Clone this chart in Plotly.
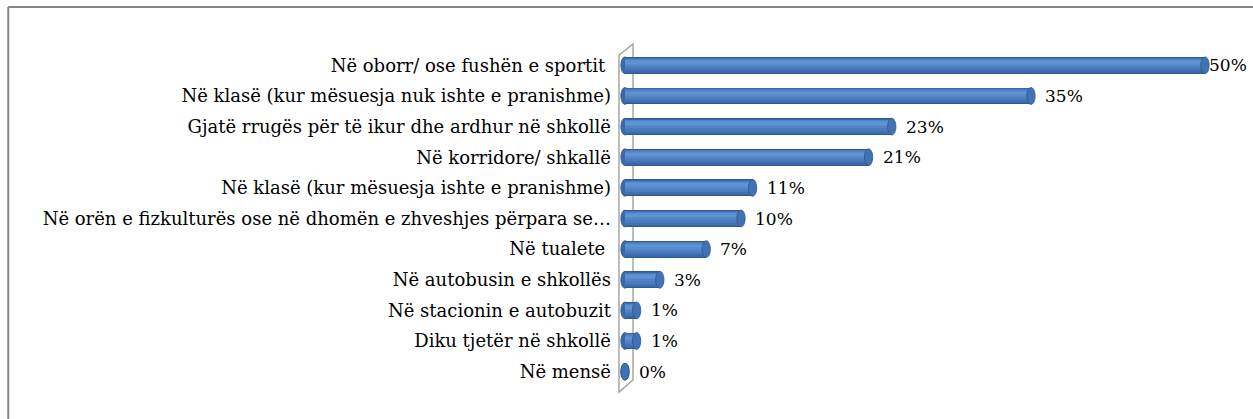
import plotly.graph_objects as go

# Locations where incidents happened, top to bottom, with share of answers (%)
locations = [
    "Në oborr/ ose fushën e sportit ",
    "Në klasë (kur mësuesja nuk ishte e pranishme)",
    "Gjatë rrugës për të ikur dhe ardhur në shkollë",
    "Në korridore/ shkallë",
    "Në klasë (kur mësuesja ishte e pranishme)",
    "Në orën e fizkulturës ose në dhomën e zhveshjes përpara se…",
    "Në tualete ",
    "Në autobusin e shkollës",
    "Në stacionin e autobuzit",
    "Diku tjetër në shkollë",
    "Në mensë",
]
shares = [50, 35, 23, 21, 11, 10, 7, 3, 1, 1, 0]
value_labels = ["50%", "35%", "23%", "21%", "11%", "10%", "7%", "3%", "1%", "1%", "0%"]

# plot bottom-up so the first location sits at the top
cats = locations[::-1]
vals = shares[::-1]
labs = value_labels[::-1]
idx = list(range(len(cats)))

FONT = "Palatino Linotype, Book Antiqua, DejaVu Serif, serif"
FONT_SIZE = 18
BAR_W = 0.55
CAP_R = 0.36

fig = go.Figure()

# cylinder shading: bands given as (bottom, top) fractions of the bar thickness
bands = [
    (0.00, 1.00, "#2f5b94"),
    (0.06, 0.95, "#3a68a7"),
    (0.14, 0.92, "#4271b3"),
    (0.26, 0.90, "#497bbd"),
    (0.40, 0.87, "#5184c7"),
    (0.52, 0.82, "#588cce"),
    (0.60, 0.76, "#5f93d4"),
]
for b0, b1, col in bands:
    fig.add_trace(go.Bar(
        x=vals, y=idx, orientation="h",
        width=BAR_W * (b1 - b0), offset=-BAR_W / 2 + BAR_W * b0,
        marker=dict(color=col, line=dict(width=0)),
        hoverinfo="skip", showlegend=False,
    ))

shapes = []
# side wall of the 3D chart
shapes.append(dict(
    type="path", xref="x", yref="paper",
    path="M -0.52,-0.015 L -0.52,0.985 L 0.69,1.018 L 0.69,0.021 Z",
    line=dict(color="#a6a6a6", width=1.5), fillcolor="rgba(255,255,255,0)",
    layer="below",
))
for i, v in zip(idx, vals):
    # rounded start of the cylinder
    shapes.append(dict(
        type="circle", xref="x", yref="y", layer="below",
        x0=-CAP_R, x1=CAP_R, y0=i - BAR_W / 2, y1=i + BAR_W / 2,
        fillcolor="#3a69a8", line=dict(color="#2e5c96", width=0.8),
    ))
    # end face of the cylinder
    shapes.append(dict(
        type="circle", xref="x", yref="y", layer="above",
        x0=v - CAP_R, x1=v + CAP_R, y0=i - BAR_W / 2, y1=i + BAR_W / 2,
        fillcolor="#4272b2", line=dict(color="#2b5790", width=0.8),
    ))

# chart frame (top and left edges)
shapes.append(dict(type="line", xref="paper", yref="paper",
                   x0=-0.954, x1=1.01, y0=1.1276, y1=1.1276,
                   line=dict(color="#868686", width=2)))
shapes.append(dict(type="line", xref="paper", yref="paper",
                   x0=-0.954, x1=-0.954, y0=1.1276, y1=-0.2,
                   line=dict(color="#868686", width=2)))

annotations = []
top = max(vals)
for i, v, t in zip(idx, vals, labs):
    annotations.append(dict(
        x=v, y=i, xref="x", yref="y", text=t, showarrow=False,
        xanchor="left", yanchor="middle",
        xshift=2 if v == top else 12,
        font=dict(family=FONT, size=FONT_SIZE - 1, color="#000000"),
    ))

fig.update_layout(
    width=1253, height=419,
    margin=dict(l=615, r=2, t=50, b=32),
    paper_bgcolor="white", plot_bgcolor="white",
    barmode="overlay", bargap=0,
    shapes=shapes, annotations=annotations,
    xaxis=dict(range=[-0.862, 53.97], visible=False, fixedrange=True),
    yaxis=dict(
        range=[-0.5, len(cats) - 0.5],
        tickmode="array", tickvals=idx, ticktext=cats,
        showgrid=False, zeroline=False, showline=False, ticks="",
        ticklabelstandoff=3,
        tickfont=dict(family=FONT, size=FONT_SIZE, color="#000000"),
        fixedrange=True,
    ),
)

fig.write_html("out.html")
